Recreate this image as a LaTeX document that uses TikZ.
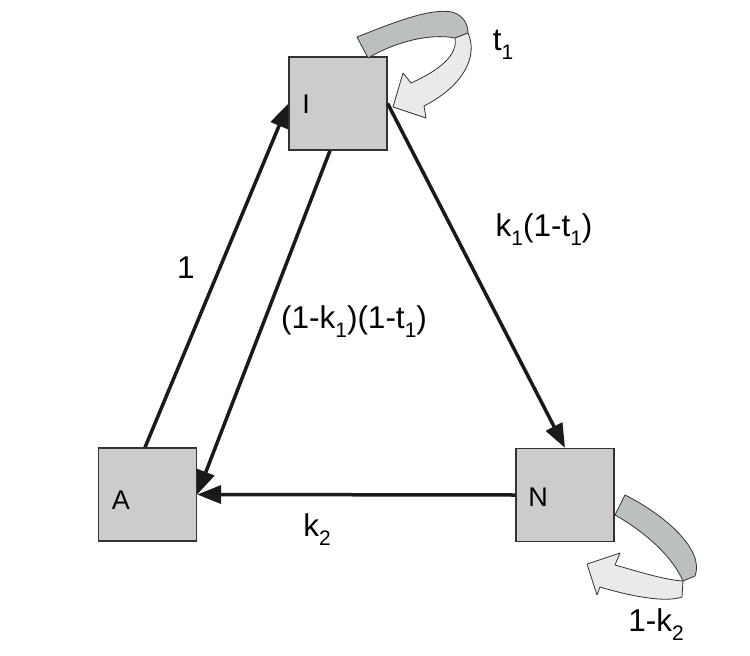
\documentclass[tikz,border=0pt]{standalone}
\usepackage{fontspec}
\setmainfont{Liberation Sans}
\usetikzlibrary{arrows.meta,calc}
\definecolor{boxfill}{HTML}{CCCCCC}
\definecolor{boxline}{HTML}{333333}
\definecolor{ribdark}{HTML}{BBBFBF}
\definecolor{riblight}{HTML}{E9EBEB}
\definecolor{arrowc}{HTML}{1A1A1A}
\newcommand{\lowsub}[1]{\raisebox{-9pt}{\fontsize{21}{21}\selectfont #1}}
\begin{document}
\begin{tikzpicture}[x=1pt,y=-1pt,
  statebox/.style={draw=boxline, fill=boxfill, line width=1.3pt, minimum width=98pt, minimum height=93pt, inner sep=0pt},
  boxlabel/.style={font=\fontsize{27}{27}\selectfont, inner sep=0pt},
  edgelabel/.style={font=\fontsize{31.5}{31.5}\selectfont, inner sep=0pt},
  flow/.style={draw=arrowc, line width=3.5pt, -{Triangle[length=24pt,width=18pt]}},
  ribbondark/.style={fill=ribdark, draw=boxline, line width=0.8pt, line join=round},
  ribbonlight/.style={fill=riblight, draw=boxline, line width=0.8pt, line join=round}]
\useasboundingbox (0,0) rectangle (750,656);

% boxes
\node[statebox] (I) at (338,103.5) {};
\node[statebox] (A) at (147.5,494.5) {};
\node[statebox] (N) at (565,495) {};

\node[boxlabel] (Ilab) at (306,104) {I};
\node[boxlabel] (Alab) at (121,500) {A};
\node[boxlabel] (Nlab) at (538,497) {N};

% connectors
\draw[flow] ([xshift=-2.5pt]A.north) -- (I.west);
\draw[flow] ([xshift=-8pt]I.south) -- (A.east);
\draw[flow] (I.east) -- (N.north);
\draw[flow] (N.west) -- (A.east);

% self loop on I
\fill[ribbondark] (357,37) .. controls (395,22) and (430,8) .. (452,12)
  .. controls (463,15) and (468,24) .. (468,33) -- (455,38)
  .. controls (430,33) and (395,42) .. (368,58) -- cycle;
\fill[ribbonlight] (455,38) -- (468,33) .. controls (478,55) and (465,85) .. (424,106)
  -- (426,118) -- (393,107) -- (403,73) -- (411,83)
  .. controls (440,70) and (458,55) .. (455,38) -- cycle;

% self loop on N
\fill[ribbondark] (625,495) .. controls (665,515) and (705,550) .. (695,576)
  -- (683,581) .. controls (672,556) and (645,532) .. (615,515) -- cycle;
\fill[ribbonlight] (683,581) -- (682,597) .. controls (665,603) and (630,596) .. (600,587)
  -- (597,595) -- (587,564) -- (620,553) -- (615,565)
  .. controls (640,572) and (665,580) .. (683,581) -- cycle;

% labels
\node[edgelabel] (lab1) at (186,268) {1};
\node[edgelabel] (labIA) at (354,322) {(1-k\lowsub{1})(1-t\lowsub{1})};
\node[edgelabel] (labIN) at (544,230) {k\lowsub{1}(1-t\lowsub{1})};
\node[edgelabel] (labNA) at (317,530) {k\lowsub{2}};
\node[edgelabel] (labI) at (503,45) {t\lowsub{1}};
\node[edgelabel] (labN) at (656,625) {1-k\lowsub{2}};
\end{tikzpicture}
\end{document}
